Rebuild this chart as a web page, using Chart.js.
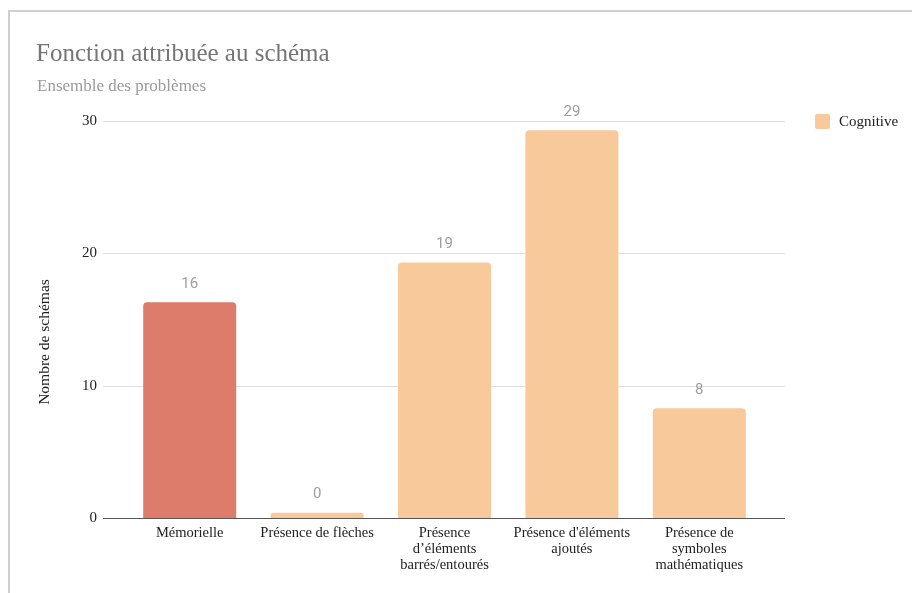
<!DOCTYPE html>
<html>
<head>
<meta charset="utf-8">
<script src="https://cdn.jsdelivr.net/npm/chart.js@4"></script>
<style>
  html, body { margin: 0; padding: 0; background: #fff; overflow: hidden; }
  #frame { position: absolute; left: 8px; top: 10px; width: 1000px; height: 700px;
           border-top: 2px solid #cfcfcf; border-left: 2px solid #cfcfcf; }
  #chart { position: absolute; left: 0; top: 0; }
</style>
</head>
<body>
<div id="frame"></div>
<canvas id="chart" width="912" height="593"></canvas>
<script>
// Chart data
const categories = [
    ['Mémorielle'],
    ['Présence de flèches'],
    ['Présence', 'd’éléments', 'barrés/entourés'],
    ["Présence d'éléments", 'ajoutés'],
    ['Présence de', 'symboles', 'mathématiques']
];
const barValues = [16.3, 0.4, 19.3, 29.3, 8.3];
const valueLabels = ['16', '0', '19', '29', '8'];
const barColors = ['#dd7c6a', '#f8c99b', '#f8c99b', '#f8c99b', '#f8c99b'];
const yTicks = [0, 10, 20, 30];

const chartTitle = 'Fonction attribuée au schéma';
const chartSubtitle = 'Ensemble des problèmes';
const yAxisTitle = 'Nombre de schémas';
const legendLabel = 'Cognitive';

const SERIF = "'Liberation Serif', 'Times New Roman', serif";

// grid lines wider than the plot area, like the original
const gridPlugin = {
    id: 'wideGrid',
    beforeDatasetsDraw(chart) {
        const ctx = chart.ctx;
        const y = chart.scales.y;
        ctx.save();
        ctx.strokeStyle = '#dedede';
        ctx.lineWidth = 1;
        yTicks.forEach(v => {
            if (v === 0) return;
            const py = Math.round(y.getPixelForValue(v)) + 0.5;
            ctx.beginPath();
            ctx.moveTo(103, py);
            ctx.lineTo(785, py);
            ctx.stroke();
        });
        ctx.restore();
    },
    afterDatasetsDraw(chart) {
        const ctx = chart.ctx;
        const y = chart.scales.y;
        ctx.save();
        // baseline
        const py = Math.round(y.getPixelForValue(0)) + 0.5;
        ctx.strokeStyle = '#555';
        ctx.lineWidth = 1;
        ctx.beginPath();
        ctx.moveTo(103, py);
        ctx.lineTo(785, py);
        ctx.stroke();

        // value labels above bars
        const meta = chart.getDatasetMeta(0);
        ctx.fillStyle = '#9e9e9e';
        ctx.font = "15px Roboto, 'Liberation Sans', sans-serif";
        ctx.textAlign = 'center';
        ctx.textBaseline = 'middle';
        meta.data.forEach((bar, i) => {
            ctx.fillText(valueLabels[i], bar.x, bar.y - 18);
        });
        ctx.restore();
    },
    afterDraw(chart) {
        const ctx = chart.ctx;
        ctx.save();
        // title + subtitle
        ctx.textAlign = 'left';
        ctx.textBaseline = 'middle';
        ctx.fillStyle = '#757575';
        ctx.font = '25px ' + SERIF;
        ctx.fillText(chartTitle, 36, 54);
        ctx.fillStyle = '#9a9a9a';
        ctx.font = '17px ' + SERIF;
        ctx.fillText(chartSubtitle, 37, 87);

        // legend
        ctx.fillStyle = '#f8c99b';
        ctx.beginPath();
        ctx.roundRect(815, 114, 15, 15, 2);
        ctx.fill();
        ctx.fillStyle = '#222';
        ctx.font = '15px ' + SERIF;
        ctx.fillText(legendLabel, 839, 122);

        // y axis title
        ctx.translate(45, 342);
        ctx.rotate(-Math.PI / 2);
        ctx.textAlign = 'center';
        ctx.fillStyle = '#222';
        ctx.font = '15.5px ' + SERIF;
        ctx.fillText(yAxisTitle, 0, 0);
        ctx.restore();
    }
};

new Chart(document.getElementById('chart'), {
    type: 'bar',
    data: {
        labels: categories,
        datasets: [{
            label: legendLabel,
            data: barValues,
            backgroundColor: barColors,
            borderRadius: { topLeft: 4, topRight: 4 },
            borderSkipped: 'start',
            barPercentage: 0.73,
            categoryPercentage: 1
        }]
    },
    options: {
        responsive: false,
        devicePixelRatio: 1,
        animation: false,
        layout: { padding: { top: 121, right: 149, bottom: 0, left: 0 } },
        plugins: {
            legend: { display: false },
            title: { display: false },
            tooltip: { enabled: false }
        },
        scales: {
            x: {
                grid: { display: false, drawTicks: false },
                border: { display: false },
                ticks: {
                    color: '#222',
                    font: { family: SERIF, size: 14.5, lineHeight: 1.1 },
                    padding: 7,
                    maxRotation: 0,
                    autoSkip: false
                },
                afterFit(scale) { scale.height = 75; }
            },
            y: {
                min: 0,
                max: 30,
                grid: { display: false, drawTicks: false },
                border: { display: false },
                ticks: {
                    stepSize: 10,
                    color: '#222',
                    font: { family: SERIF, size: 15 },
                    padding: 29
                },
                afterFit(scale) { scale.width = 126; }
            }
        }
    },
    plugins: [gridPlugin]
});
</script>
</body>
</html>
